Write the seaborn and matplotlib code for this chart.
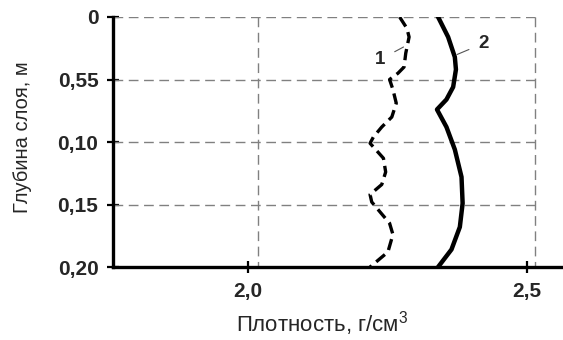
import numpy as np
import pandas as pd
import matplotlib
matplotlib.use("Agg")
import matplotlib.pyplot as plt
import seaborn as sns

# ----------------------------------------------------------
# Datos (densidad g/cm3 vs profundidad m)
# ----------------------------------------------------------
depth_1 = [0.000, 0.009, 0.016, 0.029, 0.040, 0.045, 0.050, 0.058, 0.069, 0.080,
           0.088, 0.096, 0.101, 0.113, 0.124, 0.134, 0.142, 0.148, 0.156, 0.165,
           0.174, 0.188, 0.200]
dens_1 = [2.272, 2.285, 2.289, 2.283, 2.280, 2.269, 2.254, 2.260, 2.266, 2.258,
          2.240, 2.225, 2.219, 2.243, 2.247, 2.240, 2.219, 2.222, 2.237, 2.254,
          2.260, 2.251, 2.219]

depth_2 = [0.000, 0.016, 0.032, 0.042, 0.056, 0.066, 0.074, 0.088, 0.106, 0.128,
           0.149, 0.168, 0.186, 0.200]
dens_2 = [2.341, 2.359, 2.371, 2.373, 2.368, 2.356, 2.339, 2.356, 2.371, 2.383,
          2.385, 2.380, 2.365, 2.341]

y_ticks = [0, 0.05, 0.10, 0.15, 0.20]
y_labels = ["0", "0,55", "0,10", "0,15", "0,20"]
x_ticks = [2.0, 2.5]
x_labels = ["2,0", "2,5"]

df1 = pd.DataFrame({"dens": dens_1, "depth": depth_1})
df2 = pd.DataFrame({"dens": dens_2, "depth": depth_2})

sns.set_style("white")
plt.rcParams["font.family"] = ["Liberation Sans", "DejaVu Sans"]
plt.rcParams["mathtext.fontset"] = "custom"
plt.rcParams["mathtext.rm"] = "Liberation Sans"

fig = plt.figure(figsize=(5.63, 3.40), dpi=100)
ax = fig.add_axes([0.2007, 0.2147, 0.7993, 0.7353])

# rejilla (marco discontinuo)
grid_kw = dict(color="#808080", lw=1.0, linestyle=(0, (7, 4)), zorder=1)
ax.hlines(y_ticks[:-1], 1.758, 2.514, **grid_kw)
ax.vlines([2.018, 2.514], 0, 0.20, **grid_kw)

# curvas
sns.lineplot(data=df1, x="dens", y="depth", orient="y", sort=False, estimator=None,
             color="black", lw=2.4, ax=ax, zorder=3)
ax.lines[-1].set_linestyle((0, (3.4, 1.8)))
sns.lineplot(data=df2, x="dens", y="depth", orient="y", sort=False, estimator=None,
             color="black", lw=3.2, ax=ax, zorder=3)

# etiquetas de las curvas
ax.annotate("1", xy=(2.279, 0.024), xytext=(2.237, 0.034), fontsize=13.5, fontweight="bold",
            ha="center", va="center",
            arrowprops=dict(arrowstyle="-", color="#555555", lw=0.8, shrinkA=5, shrinkB=0))
ax.annotate("2", xy=(2.375, 0.030), xytext=(2.423, 0.021), fontsize=13.5, fontweight="bold",
            ha="center", va="center",
            arrowprops=dict(arrowstyle="-", color="#555555", lw=0.8, shrinkA=5, shrinkB=0))

ax.set_xlim(1.758, 2.565)
ax.set_ylim(0.20, 0)

ax.set_xticks(x_ticks)
ax.set_xticklabels(x_labels, fontweight="bold", fontsize=15)
ax.set_yticks(y_ticks)
ax.set_yticklabels(y_labels, fontweight="bold", fontsize=15)
ax.tick_params(bottom=True, left=True, direction="inout", length=9, width=1.6,
               color="black", pad=6)

for s in ["top", "right"]:
    ax.spines[s].set_visible(False)
for s in ["left", "bottom"]:
    ax.spines[s].set_linewidth(2.4)
    ax.spines[s].set_color("black")

ax.set_xlabel("Плотность, г/см$^3$", fontsize=16)
ax.set_ylabel("Глубина слоя, м", fontsize=14.5)
ax.xaxis.set_label_coords(0.464, -0.17)
ax.yaxis.set_label_coords(-0.18, 0.52)

ax.set_facecolor("white")
fig.savefig("out.png", dpi=100, facecolor="white")
